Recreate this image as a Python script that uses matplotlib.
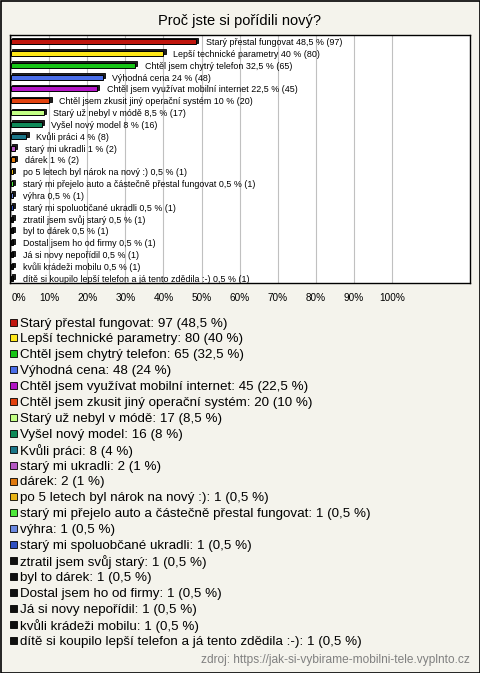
import matplotlib.pyplot as plt
from matplotlib.patches import Rectangle

plt.rcParams['font.family'] = ['Liberation Sans', 'DejaVu Sans']

title = 'Proč jste si pořídili nový?'
source = 'zdroj: https://jak-si-vybirame-mobilni-tele.vyplnto.cz'

answers = [
    'Starý přestal fungovat',
    'Lepší technické parametry',
    'Chtěl jsem chytrý telefon',
    'Výhodná cena',
    'Chtěl jsem využívat mobilní internet',
    'Chtěl jsem zkusit jiný operační systém',
    'Starý už nebyl v módě',
    'Vyšel nový model',
    'Kvůli práci',
    'starý mi ukradli',
    'dárek',
    'po 5 letech byl nárok na nový :)',
    'starý mi přejelo auto a částečně přestal fungovat',
    'výhra',
    'starý mi spoluobčané ukradli',
    'ztratil jsem svůj starý',
    'byl to dárek',
    'Dostal jsem ho od firmy',
    'Já si novy nepořídil',
    'kvůli krádeži mobilu',
    'dítě si koupilo lepší telefon a já tento zdědila :-)',
]
counts = [97, 80, 65, 48, 45, 20, 17, 16, 8, 2, 2, 1, 1, 1, 1, 1, 1, 1, 1, 1, 1]
respondents = 200
colors = ['#c0160e', '#ffe81a', '#16c416', '#4a6ee8', '#b316c6', '#e2420f',
          '#c2ff84', '#0e8a58', '#1b7688', '#b457c2', '#e07a10', '#e8b416',
          '#4ee83a', '#6a88e0', '#2e4fc0', '#101010', '#101010', '#101010',
          '#101010', '#101010', '#101010']
tick_labels = ['0%', '10%', '20%', '30%', '40%', '50%', '60%', '70%', '80%', '90%', '100%']

shares = [c / respondents for c in counts]


def fmt(p):
    s = ('%.1f' % (p * 100)).rstrip('0').rstrip('.')
    return s.replace('.', ',')


W, H = 480, 673
fig = plt.figure(figsize=(W / 100, H / 100), dpi=100)
fig.patch.set_facecolor('#f4f3ec')

# plot box: x 10..470, y 35..283 (pixels from top)
ax = fig.add_axes([10 / W, 1 - 283 / H, 460 / W, 248 / H])
ax.set_facecolor('white')
ax.set_xlim(-0.003, 1.205)
ax.set_ylim(len(answers) - 0.6, -0.55)
ax.set_xticks([i / 10 for i in range(11)])
ax.set_xticklabels(tick_labels, fontsize=7.2)
ax.get_xticklabels()[0].set_horizontalalignment('left')
ax.set_yticks([])
ax.tick_params(axis='x', length=0, pad=7)
ax.grid(axis='x', color='#c0c0c0', linewidth=0.8)
ax.set_axisbelow(True)
for sp in ax.spines.values():
    sp.set_linewidth(1)

ys = list(range(len(answers)))
# back face of the 3D bars
ax.barh([y - 0.12 for y in ys], [s + 0.004 for s in shares], height=0.42, left=0.002,
        color='#202020', edgecolor='black', linewidth=0.6, zorder=2)
ax.barh(ys, shares, height=0.42, color=colors, edgecolor='black', linewidth=0.7, zorder=3)
for y, a, s, c in zip(ys, answers, shares, counts):
    ax.annotate('%s %s %% (%d)' % (a, fmt(s), c), (s + 0.004, y), xytext=(6, 0),
                textcoords='offset points', va='center_baseline', ha='left',
                fontsize=6.4, zorder=4)

# overlay in pixel coordinates for title, legend and source
ov = fig.add_axes([0, 0, 1, 1], zorder=-1)
ov.set_xlim(0, W)
ov.set_ylim(H, 0)
ov.axis('off')
ov.add_patch(Rectangle((0.5, 0.5), W - 1, H - 1, fill=False, edgecolor='black', linewidth=1.2))
ov.text(W / 2, 20, title, ha='center', va='center_baseline', fontsize=10.5)

for i, (a, s, c, col) in enumerate(zip(answers, shares, counts, colors)):
    y = 322 + i * 15.9
    ov.add_patch(Rectangle((10, y - 3.5), 7, 7, facecolor=col, edgecolor='black', linewidth=0.6))
    ov.text(20, y, '%s: %d (%s %%)' % (a, c, fmt(s)), ha='left', va='center_baseline',
            fontsize=9.6)

ov.text(470, 658, source, ha='right', va='center_baseline', fontsize=8.6, color='#808080')

fig.savefig('out.png', dpi=100, facecolor=fig.get_facecolor())
